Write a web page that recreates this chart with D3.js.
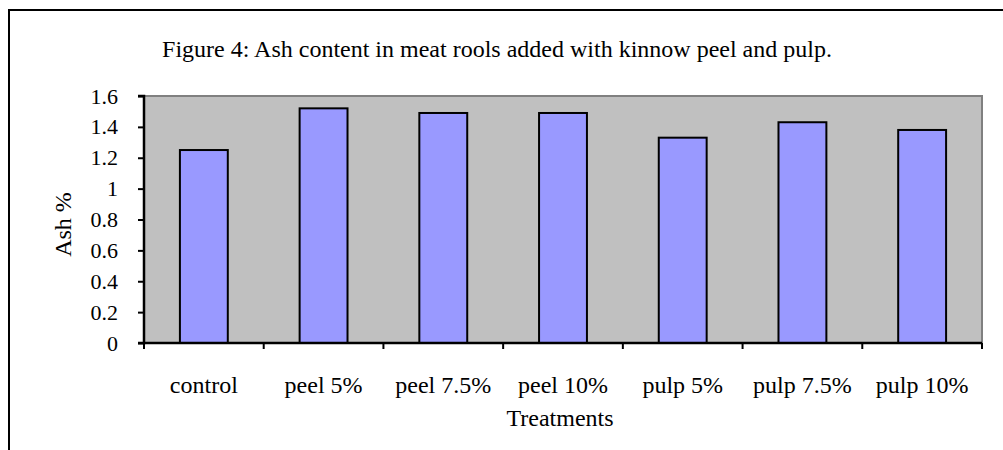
<!DOCTYPE html>
<html>
<head>
<meta charset="utf-8">
<script src="https://cdn.jsdelivr.net/npm/d3@7"></script>
<style>
  body { margin: 0; background: #fff; }
  svg text { font-family: "Liberation Serif", "Times New Roman", serif; fill: #000; }
</style>
</head>
<body>
<svg id="chart"></svg>
<script>
// ash content data
var treatments = ["control", "peel 5%", "peel 7.5%", "peel 10%", "pulp 5%", "pulp 7.5%", "pulp 10%"];
var ashValues = [1.25, 1.52, 1.49, 1.49, 1.33, 1.43, 1.38];
var yTicks = [0, 0.2, 0.4, 0.6, 0.8, 1, 1.2, 1.4, 1.6];
var titleText = "Figure 4: Ash content in meat rools added with kinnow peel and pulp.";

const chartW = 1003,
    chartH = 450,
    plotL = 144,
    plotR = 982,
    plotT = 96,
    plotB = 343;

var svg = d3.select("#chart")
    .attr("width", chartW)
    .attr("height", chartH);

// outer frame (only top and left visible)
svg.append("path")
    .attr("d", "M9,450 L9,10 L1003,10")
    .attr("fill", "none")
    .attr("stroke", "#000")
    .attr("stroke-width", 2);

var xScale = d3.scaleBand()
    .domain(treatments)
    .range([plotL, plotR])
    .paddingInner(0.6)
    .paddingOuter(0.3);
var yScale = d3.scaleLinear().domain([0, 1.6]).range([plotB, plotT]);

// plot area
svg.append("rect")
    .attr("x", plotL)
    .attr("y", plotT)
    .attr("width", plotR - plotL)
    .attr("height", plotB - plotT)
    .attr("fill", "#c0c0c0")
    .attr("stroke", "#808080")
    .attr("stroke-width", 2);

// bars
svg.append("g")
    .selectAll("rect")
    .data(ashValues)
    .enter()
    .append("rect")
    .attr("x", function(d, i) {return xScale(treatments[i]);})
    .attr("y", function(d) {return yScale(d);})
    .attr("width", xScale.bandwidth())
    .attr("height", function(d) {return plotB - yScale(d);})
    .attr("fill", "#9999ff")
    .attr("stroke", "#000")
    .attr("stroke-width", 2);

// y axis
var yAxis = d3.axisLeft(yScale)
    .tickValues(yTicks)
    .tickSize(6)
    .tickPadding(20)
    .tickFormat(function(d) {return d + "";});
var gy = svg.append("g")
    .attr("transform", "translate(" + plotL + ",0)")
    .call(yAxis);
gy.select(".domain").attr("stroke-width", 2.5).attr("d", "M-6," + plotT + "H0V" + plotB + "H-6");
gy.selectAll(".tick line").attr("stroke-width", 2);
gy.selectAll("text").attr("font-size", 22);

// x axis with ticks at category boundaries
var step = (plotR - plotL) / treatments.length;
var gx = svg.append("g").attr("transform", "translate(0," + plotB + ")");
gx.append("line")
    .attr("x1", plotL).attr("x2", plotR)
    .attr("stroke", "#000").attr("stroke-width", 2.5);
gx.selectAll(".xt")
    .data(d3.range(treatments.length + 1))
    .enter()
    .append("line")
    .attr("x1", function(i) {return plotL + i * step;})
    .attr("x2", function(i) {return plotL + i * step;})
    .attr("y1", 0).attr("y2", 6)
    .attr("stroke", "#000").attr("stroke-width", 2);
gx.selectAll(".xl")
    .data(treatments)
    .enter()
    .append("text")
    .attr("x", function(d) {return xScale(d) + xScale.bandwidth() / 2;})
    .attr("y", 50)
    .attr("text-anchor", "middle")
    .attr("font-size", 24)
    .text(function(d) {return d;});

// titles
svg.append("text")
    .attr("x", 497)
    .attr("y", 57)
    .attr("text-anchor", "middle")
    .attr("font-size", 24)
    .text(titleText);
svg.append("text")
    .attr("x", 560)
    .attr("y", 426)
    .attr("text-anchor", "middle")
    .attr("font-size", 24)
    .text("Treatments");
svg.append("text")
    .attr("transform", "translate(71," + ((plotT + plotB) / 2 + 5) + ") rotate(-90)")
    .attr("text-anchor", "middle")
    .attr("font-size", 24)
    .text("Ash %");
</script>
</body>
</html>
